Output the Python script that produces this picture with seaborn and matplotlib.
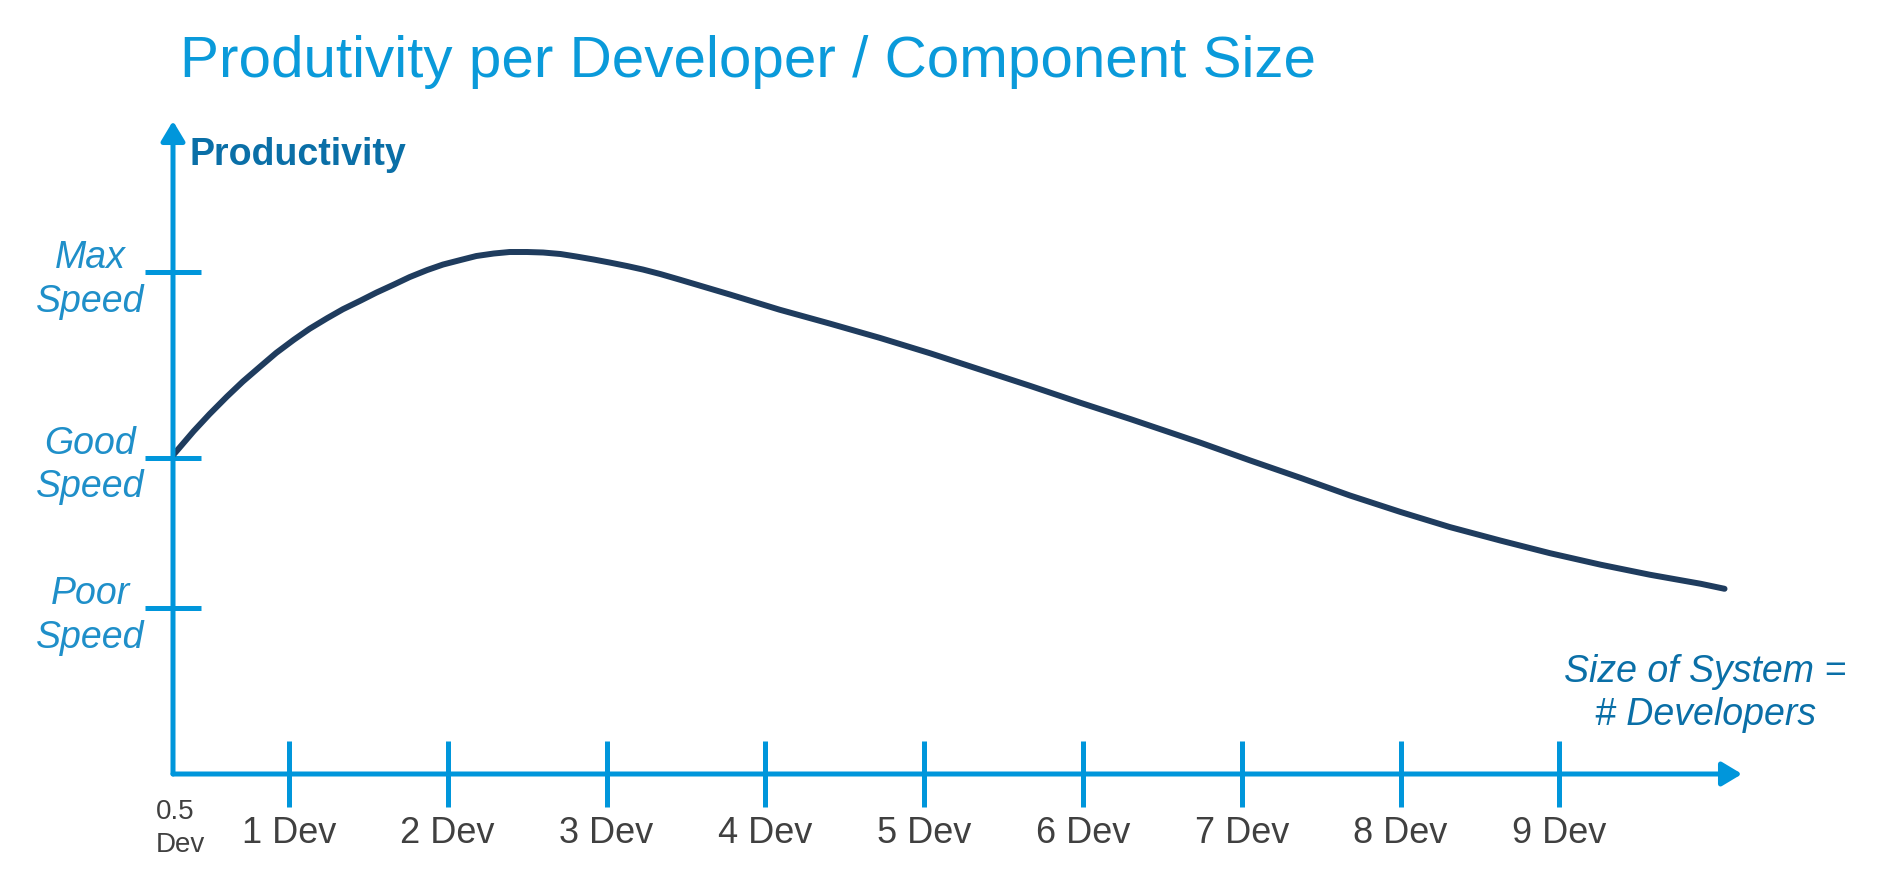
import matplotlib
matplotlib.use("Agg")
import matplotlib.pyplot as plt
import seaborn as sns

# Chart content
title = "Produtivity per Developer / Component Size"
y_title = "Productivity"
x_title = "Size of System =\n# Developers"
origin_label = "0.5\nDev"
dev_ticks = [1, 2, 3, 4, 5, 6, 7, 8, 9]
dev_labels = ["1 Dev", "2 Dev", "3 Dev", "4 Dev", "5 Dev", "6 Dev", "7 Dev", "8 Dev", "9 Dev"]
speed_levels = [33, 63, 100]
speed_labels = ["Poor\nSpeed", "Good\nSpeed", "Max\nSpeed"]

# Productivity curve (x in "Dev" tick units, y relative to Max Speed = 100)
curve_x = [0.27, 0.40, 0.50, 0.61, 0.71, 0.82, 0.92, 1.03, 1.13, 1.24, 1.34, 1.45,
           1.55, 1.66, 1.76, 1.87, 1.97, 2.08, 2.18, 2.29, 2.39, 2.50, 2.60, 2.71,
           2.81, 2.92, 3.02, 3.13, 3.23, 3.34, 3.46, 3.78, 4.09, 4.41, 4.72, 5.04,
           5.35, 5.67, 5.98, 6.30, 6.74, 7.05, 7.37, 7.68, 8.00, 8.31, 8.63, 8.94,
           9.26, 9.57, 9.89, 10.04]
curve_y = [63.5, 68.3, 71.7, 75.2, 78.2, 81.2, 83.9, 86.5, 88.7, 90.8, 92.6, 94.3,
           95.9, 97.5, 99.0, 100.4, 101.5, 102.4, 103.2, 103.7, 104.0, 104.0, 103.9, 103.6,
           103.1, 102.5, 101.9, 101.2, 100.5, 99.6, 98.5, 95.5, 92.5, 89.7, 86.9, 83.8,
           80.6, 77.3, 74.0, 70.7, 66.0, 62.5, 59.0, 55.5, 52.2, 49.2, 46.5, 44.0,
           41.7, 39.7, 37.9, 36.9]

X_MIN, X_MAX = 0.27, 10.15
Y_MIN, Y_MAX = 0, 130.1

AXIS_BLUE = "#0096DB"
TITLE_BLUE = "#0A9ADA"
DARK_BLUE = "#0A6FA7"
LABEL_BLUE = "#1F8FC9"
GREY = "#404040"
CURVE = "#1F3C5E"

sns.set_theme(style="white")
plt.rcParams["font.family"] = ["Liberation Sans", "DejaVu Sans"]

fig = plt.figure(figsize=(18.8, 8.8), dpi=100)
ax = fig.add_axes([173 / 1880, 106 / 880, 1569 / 1880, 653 / 880])

sns.lineplot(x=curve_x, y=curve_y, color=CURVE, linewidth=4.3, ax=ax, sort=False)

ax.set_xlim(X_MIN, X_MAX)
ax.set_ylim(Y_MIN, Y_MAX)
for side in ax.spines.values():
    side.set_visible(False)

# axis arrows
arrow = dict(arrowstyle="-|>,head_length=0.6,head_width=0.36", color=AXIS_BLUE,
             lw=3.6, mutation_scale=20, shrinkA=0, shrinkB=0)
ax.annotate("", xy=(1, 0), xycoords="axes fraction", xytext=(0, 0), arrowprops=arrow)
ax.annotate("", xy=(0, 1), xycoords="axes fraction", xytext=(0, 0), arrowprops=arrow)

# ticks
ax.set_xticks(dev_ticks)
ax.set_xticklabels(dev_labels)
ax.tick_params(axis="x", bottom=True, direction="inout", length=47.5, width=3.6,
               color=AXIS_BLUE, pad=6.5, labelsize=26, labelcolor=GREY)
ax.set_yticks(speed_levels)
ax.set_yticklabels(speed_labels, style="italic", linespacing=1.27)
ax.tick_params(axis="y", left=True, direction="inout", length=40.3, width=3.6,
               color=AXIS_BLUE, pad=39.6, labelsize=27, labelcolor=LABEL_BLUE)
for lbl in ax.get_yticklabels():
    lbl.set_horizontalalignment("center")
    lbl.set_multialignment("center")

ax.annotate(origin_label, xy=(X_MIN, 0), xytext=(-12.2, -18), textcoords="offset points",
            ha="left", va="top", fontsize=20, color=GREY, linespacing=1.35)
ax.annotate(y_title, xy=(0, 1), xycoords="axes fraction", xytext=(12.2, -31.7),
            textcoords="offset points", ha="left", va="baseline", fontsize=27,
            fontweight="bold", color=DARK_BLUE)
ax.text(9.92, 16.1, x_title, ha="center", va="center", fontsize=27, style="italic",
        color=DARK_BLUE, multialignment="center", linespacing=1.25)

fig.text(180 / 1880, 1 - 77 / 880, title, ha="left", va="baseline", fontsize=42, color=TITLE_BLUE)

fig.savefig("out.png", dpi=100)
